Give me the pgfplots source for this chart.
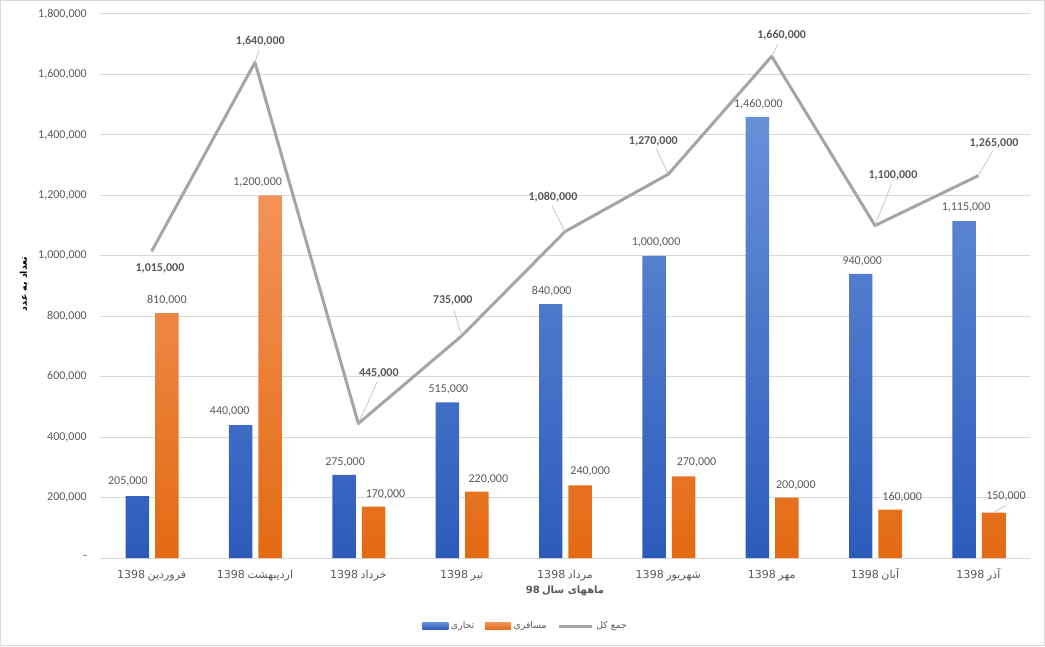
\documentclass[border=0pt]{standalone}
\usepackage{fontspec}
\setmainfont{Carlito}
\newfontfamily\fa[Script=Arabic]{DejaVu Sans}
\newfontfamily\dv{DejaVu Sans}
\usepackage{pgfplots}
\pgfplotsset{compat=1.18}
\usepackage{pgfplotstable}
\TeXXeTstate=1
\definecolor{bluetop}{HTML}{6790D8}
\definecolor{bluebot}{HTML}{2C5BBB}
\definecolor{orgtop}{HTML}{F2935A}
\definecolor{orgbot}{HTML}{E36A12}
\definecolor{linegray}{HTML}{A5A5A5}
\definecolor{labgray}{HTML}{595959}
\definecolor{gridgray}{HTML}{D9D9D9}
\definecolor{leadgray}{HTML}{BFBFBF}

\pgfplotstableread{
x y
0 205000
1 440000
2 275000
3 515000
4 840000
5 1000000
6 1460000
7 940000
8 1115000
}\tjari
\pgfplotstableread{
x y
0 810000
1 1200000
2 170000
3 220000
4 240000
5 270000
6 200000
7 160000
8 150000
}\mosaferi
\pgfplotstableread{
x y
0 1015000
1 1640000
2 445000
3 735000
4 1080000
5 1270000
6 1660000
7 1100000
8 1265000
}\kol

% label: x, y, dx(px), dy(px), font
\newcommand{\lab}[5]{\addplot[forget plot, draw=none, mark=none,
  nodes near coords={\pgfmathprintnumber[fixed,precision=0,1000 sep={,},assume math mode=true]{\pgfplotspointmeta}},
  every node near coord/.append style={anchor=center, inner sep=0pt, xshift=#3*0.75pt, yshift=#4*0.75pt, font=#5\fontsize{9}{11}\selectfont, text=labgray}]
  coordinates {(#1,#2)};}
\pgfplotsset{leader/.style={forget plot, draw=leadgray, line width=0.5pt, mark=none}}

\begin{document}
\begin{tikzpicture}
\useasboundingbox (0,0) rectangle (783.75pt,484.5pt);
\draw[gridgray, line width=0.75pt] (0.4pt,0.4pt) rectangle (783.35pt,484.1pt);
\begin{axis}[
  at={(75pt,66pt)}, anchor=south west,
  width=697.5pt, height=408pt, scale only axis,
  xmin=-0.5, xmax=8.5, ymin=0, ymax=1800000,
  clip=false,
  axis line style={draw=none},
  major tick length=0pt,
  ymajorgrids, grid style={color=gridgray, line width=0.75pt},
  ytick={0,200000,400000,600000,800000,1000000,1200000,1400000,1600000,1800000},
  yticklabels={-,{200,000},{400,000},{600,000},{800,000},{1,000,000},{1,200,000},{1,400,000},{1,600,000},{1,800,000}},
  yticklabel style={anchor=east, inner sep=0pt, xshift=-9.75pt, font=\fontsize{9}{11}\selectfont, text=labgray},
  xtick={0,1,2,3,4,5,6,7,8},
  xticklabels={
    {{\dv 1398} {\fa\beginR فروردین\endR}},
    {{\dv 1398} {\fa\beginR اردیبهشت\endR}},
    {{\dv 1398} {\fa\beginR خرداد\endR}},
    {{\dv 1398} {\fa\beginR تیر\endR}},
    {{\dv 1398} {\fa\beginR مرداد\endR}},
    {{\dv 1398} {\fa\beginR شهریور\endR}},
    {{\dv 1398} {\fa\beginR مهر\endR}},
    {{\dv 1398} {\fa\beginR آبان\endR}},
    {{\dv 1398} {\fa\beginR آذر\endR}}},
  xticklabel style={anchor=base, inner sep=0pt, yshift=-15pt, font=\fontsize{8.3}{10}\selectfont, text=labgray},
  xlabel={{\dv 98} {\fa\beginR ماههای سال\endR}},
  xlabel style={at={(axis description cs:0.5,-0.0607)}, anchor=center, font=\bfseries\fontsize{7.5}{9}\selectfont, text=labgray},
  ylabel={\fa\beginR تعداد به عدد\endR},
  ylabel style={at={(axis description cs:-0.0817,0.504)}, anchor=center, font=\bfseries\fontsize{7}{9}\selectfont, text=black},
  legend columns=3,
  legend style={draw=none, fill=none, at={(0.458,-0.125)}, anchor=center,
    font=\fa\fontsize{7}{9}\selectfont, text=labgray,
    /tikz/every even column/.append style={column sep=6pt}},
]
\addplot[ybar, bar width=17.6pt, bar shift=-10.7pt, draw=none, top color=bluetop, bottom color=bluebot,
  legend image code/.code={\fill[top color=bluetop, bottom color=bluebot, draw=none] (0pt,-2.6pt) rectangle (19.5pt,2.6pt);}]
  table[x=x, y=y] {\tjari};
\addplot[ybar, bar width=17.6pt, bar shift=11.4pt, draw=none, top color=orgtop, bottom color=orgbot,
  legend image code/.code={\fill[top color=orgtop, bottom color=orgbot, draw=none] (0pt,-2.6pt) rectangle (19.5pt,2.6pt);}]
  table[x=x, y=y] {\mosaferi};
\addplot[color=linegray, line width=2.25pt, mark=none, line join=round,
  legend image code/.code={\draw[linegray, line width=2.25pt] (0pt,0pt) -- (25pt,0pt);}]
  table[x=x, y=y] {\kol};
\legend{{\beginR تجاری\endR},{\beginR مسافری\endR},{\beginR جمع کل\endR}}
% leaders
\addplot[leader] coordinates {(1,1640000) (1.039,1683000)};
\addplot[leader] coordinates {(2,445000) (2.184,584000)};
\addplot[leader] coordinates {(3,735000) (2.923,821000)};
\addplot[leader] coordinates {(4,1080000) (3.874,1166000)};
\addplot[leader] coordinates {(5,1270000) (4.884,1352700)};
\addplot[leader] coordinates {(6,1660000) (6.06,1699700)};
\addplot[leader] coordinates {(7,1100000) (7.158,1235700)};
\addplot[leader] coordinates {(8,1265000) (8.142,1347700)};
\addplot[leader] coordinates {(8.147,150000) (8.273,175500)};
% blue bar labels (bar centre x = cat - 0.138)
\lab{-0.138}{205000}{-9.5}{15}{}
\lab{0.862}{440000}{-11}{13.7}{}
\lab{1.862}{275000}{1}{13}{}
\lab{2.862}{515000}{1}{13.4}{}
\lab{3.862}{840000}{1}{13}{}
\lab{4.862}{1000000}{2}{13}{}
\lab{5.862}{1460000}{1}{13}{}
\lab{6.862}{940000}{1.5}{13}{}
\lab{7.862}{1115000}{2}{13.5}{}
% orange bar labels (bar centre x = cat + 0.147)
\lab{0.147}{810000}{0}{13}{}
\lab{1.147}{1200000}{-12.5}{12.5}{}
\lab{2.147}{170000}{12}{12.4}{}
\lab{3.147}{220000}{11.5}{12}{}
\lab{4.147}{240000}{10}{14}{}
\lab{5.147}{270000}{13}{14.4}{}
\lab{6.147}{200000}{9}{12}{}
\lab{7.147}{160000}{12}{12.6}{}
\lab{8.147}{150000}{12.5}{16.7}{}
% total labels
\lab{0}{1015000}{8.3}{-16.7}{\bfseries}
\lab{1}{1640000}{5.3}{21.6}{\bfseries}
\lab{2}{445000}{20.5}{50.5}{\bfseries}
\lab{3}{735000}{-8.9}{35.1}{\bfseries}
\lab{4}{1080000}{-12}{34.6}{\bfseries}
\lab{5}{1270000}{-15}{33}{\bfseries}
\lab{6}{1660000}{10}{21.3}{\bfseries}
\lab{7}{1100000}{18}{50}{\bfseries}
\lab{8}{1265000}{15.7}{32.7}{\bfseries}
\end{axis}
\end{tikzpicture}
\end{document}
